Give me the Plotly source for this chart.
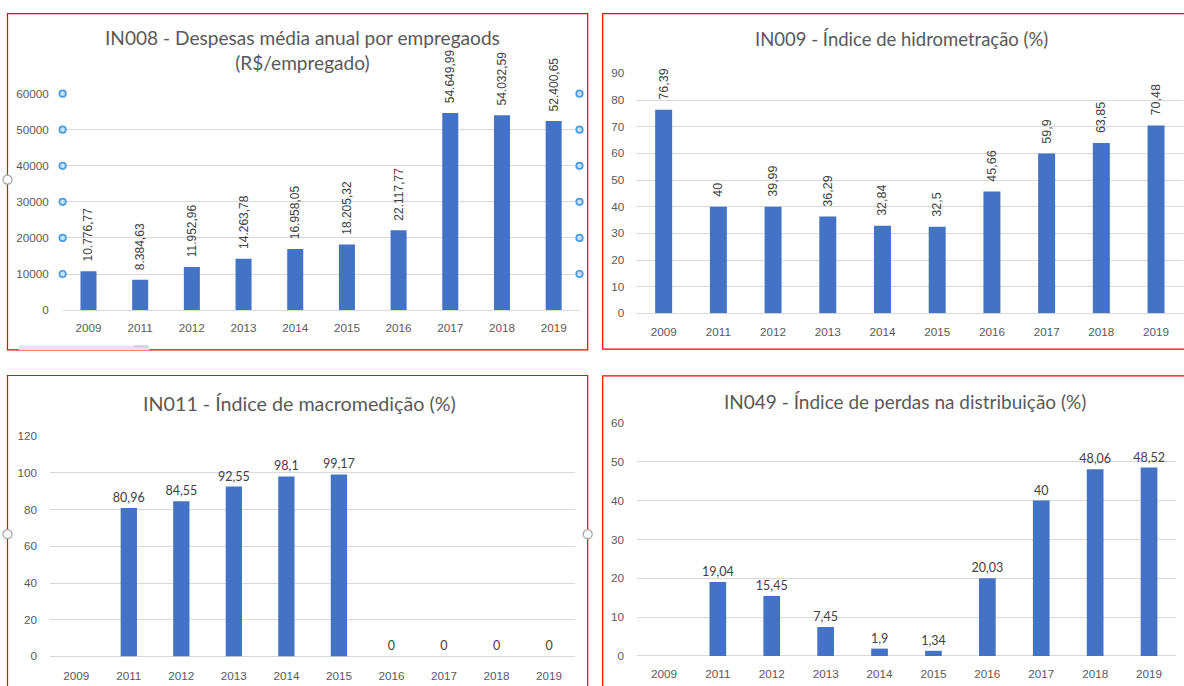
import plotly.graph_objects as go

W, H = 1184, 686

years = ["2009", "2011", "2012", "2013", "2014", "2015", "2016", "2017", "2018", "2019"]

in008 = [10776.77, 8384.63, 11952.96, 14263.78, 16958.05, 18205.32, 22117.77, 54649.99, 54032.59, 52400.65]
in009 = [76.39, 40, 39.99, 36.29, 32.84, 32.5, 45.66, 59.9, 63.85, 70.48]
in011 = [None, 80.96, 84.55, 92.55, 98.1, 99.17, 0, 0, 0, 0]
in049 = [None, 19.04, 15.45, 7.45, 1.9, 1.34, 20.03, 40, 48.06, 48.52]

titles = [
    "IN008 - Despesas média anual por empregaods<br>(R$/empregado)",
    "IN009 - Índice de hidrometração (%)",
    "IN011 - Índice de macromedição (%)",
    "IN049 - Índice de perdas na distribuição (%)",
]

ticks008 = [0, 10000, 20000, 30000, 40000, 50000, 60000]
ticks009 = [0, 10, 20, 30, 40, 50, 60, 70, 80, 90]
ticks011 = [0, 20, 40, 60, 80, 100, 120]
ticks049 = [0, 10, 20, 30, 40, 50, 60]

PADV = "\u00a0\u00a0"  # small gap below rotated labels


def fmt_br2(v):
    if v is None:
        return ""
    s = f"{v:,.2f}"
    return PADV + s.replace(",", "X").replace(".", ",").replace("X", ".")


def fmt_gen_rot(v):
    if v is None:
        return ""
    return PADV + f"{v:g}".replace(".", ",")


def fmt_gen(v):
    if v is None:
        return ""
    return f"{v:g}".replace(".", ",")


# vertical calibration of the capture (measured: shown_y = 5.7 + 0.985 * page_y)
VA, VB = 5.7, 0.985


def px(x):
    return x / W


def py(y):
    return 1 - ((y - VA) / VB) / H


BAR = "#4472C4"
GRID = "#D9D9D9"
TICK = "#595959"
LABEL = "#404040"
TITLE = "#595959"

fig = go.Figure()

panels = [
    (in008, fmt_br2, -90, "Liberation Sans, Arial, sans-serif", 12, 1, (62.65, 579.5), (310.0, 92.7), ticks008, 13, 9),
    (in009, fmt_gen_rot, -90, "Liberation Sans, Arial, sans-serif", 12.5, 2, (636.3, 1183.4), (313.3, 72.3), ticks009, 11, 10),
    (in011, fmt_gen, 0, "Lato, sans-serif", 12.5, 3, (50.0, 575.3), (657.7, 436.7), ticks011, 12, 11),
    (in049, fmt_gen, 0, "Lato, sans-serif", 12.5, 4, (637.0, 1176.0), (657.3, 423.3), ticks049, 12, 9),
]

layout_axes = {}
for vals, fn, ang, fam, fs, k, xd, yd, tks, stand, xstand in panels:
    sfx = "" if k == 1 else str(k)
    fig.add_trace(go.Bar(
        x=years, y=vals,
        text=[fn(v) for v in vals],
        textposition="outside",
        textangle=ang,
        constraintext="none",
        textfont=dict(family=fam, size=fs, color=LABEL),
        marker=dict(color=BAR, line=dict(width=0)),
        width=0.31,
        cliponaxis=False,
        xaxis="x" + sfx, yaxis="y" + sfx,
        hoverinfo="skip",
    ))
    layout_axes["xaxis" + sfx] = dict(
        domain=[px(xd[0]), px(xd[1])],
        anchor="y" + sfx,
        type="category",
        categoryorder="array", categoryarray=years,
        showgrid=False, zeroline=False,
        showline=False,
        ticks="",
        tickfont=dict(family="Liberation Sans, Arial, sans-serif", size=11.7, color=TICK),
        ticklabelstandoff=xstand,
        fixedrange=True,
    )
    layout_axes["yaxis" + sfx] = dict(
        domain=[py(yd[0]), py(yd[1])],
        anchor="x" + sfx,
        range=[0, tks[-1]],
        tickmode="array", tickvals=tks, ticktext=[str(t) for t in tks],
        showgrid=True, gridcolor=GRID, gridwidth=1,
        zeroline=True, zerolinecolor=GRID, zerolinewidth=1,
        showline=False, ticks="",
        tickfont=dict(family="Liberation Sans, Arial, sans-serif", size=11.7, color=TICK),
        ticklabelstandoff=stand,
        fixedrange=True,
    )

handle_y = ticks008[1:]
for side in (0, 1):
    fig.add_trace(go.Scatter(
        x=[side] * len(handle_y), y=handle_y,
        mode="markers",
        marker=dict(size=6.5, color="#C9E0F5", line=dict(color="#4A9BE0", width=1.7)),
        cliponaxis=False,
        xaxis="x5", yaxis="y5",
        hoverinfo="skip",
    ))
layout_axes["xaxis5"] = dict(overlaying="x", range=[0, 1], visible=False, fixedrange=True,
                             domain=layout_axes["xaxis"]["domain"], anchor="y5")
layout_axes["yaxis5"] = dict(overlaying="y", range=[0, ticks008[-1]], visible=False, fixedrange=True,
                             domain=layout_axes["yaxis"]["domain"], anchor="x5")

shapes = []
RED = "#FF0000"
for x0, y0, x1, y1 in [(7.5, 12.3, 587.7, 350.0), (602.7, 12.3, 1190, 349.3),
                       (7.5, 375.7, 587.7, 700), (602.7, 376.0, 1190, 700)]:
    shapes.append(dict(type="rect", xref="paper", yref="paper",
                       x0=px(x0), x1=px(x1), y0=py(y0), y1=py(y1),
                       line=dict(color=RED, width=1.2), fillcolor="rgba(0,0,0,0)", layer="below"))

shapes.append(dict(type="rect", xref="paper", yref="paper",
                   x0=px(19), x1=px(149), y0=py(350), y1=py(345.5),
                   fillcolor="#E4E4E4", line=dict(width=0)))
shapes.append(dict(type="rect", xref="paper", yref="paper",
                   x0=px(134), x1=px(148), y0=py(347.5), y1=py(345.5),
                   fillcolor="#CFCFCF", line=dict(width=0)))

for cx, cy in [(7.5, 179), (7.5, 535), (587.7, 535)]:
    shapes.append(dict(type="circle", xref="paper", yref="paper",
                       x0=px(cx - 4.5), x1=px(cx + 4.5), y0=py(cy + 4.5), y1=py(cy - 4.5),
                       fillcolor="white", line=dict(color="#A6A6A6", width=1.3)))

annotations = []
for txt, cx, cy, fsz in zip(titles, [302, 901, 299, 905], [49.2, 38.3, 403.3, 401.7],
                            [19.1, 18.5, 19.7, 19.0]):
    annotations.append(dict(text=txt, xref="paper", yref="paper",
                            x=px(cx), y=py(cy), xanchor="center", yanchor="middle",
                            showarrow=False,
                            font=dict(family="Lato, sans-serif", size=fsz, color=TITLE)))

fig.update_layout(
    width=W, height=H,
    margin=dict(l=0, r=0, t=0, b=0),
    paper_bgcolor="white", plot_bgcolor="white",
    showlegend=False,
    separators=",.",
    shapes=shapes,
    annotations=annotations,
    **layout_axes,
)

fig.write_html("out.html")
